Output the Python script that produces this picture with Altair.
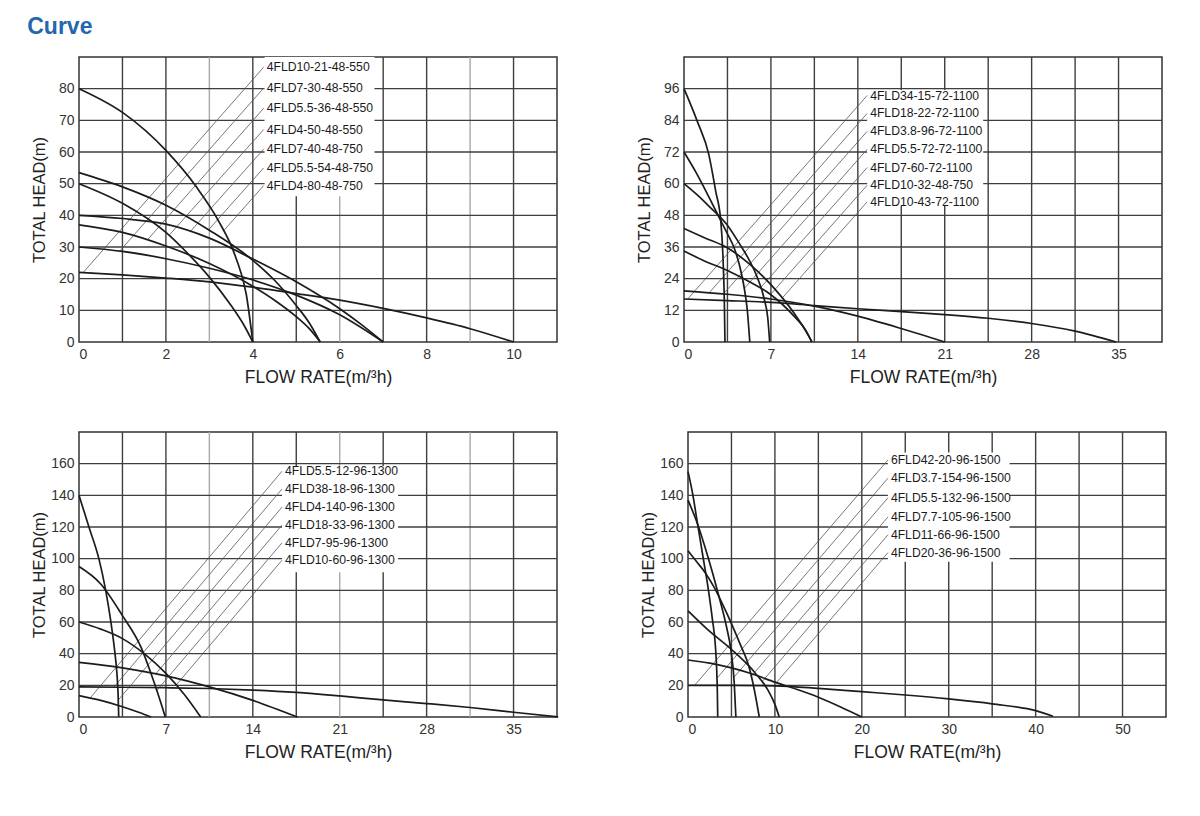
import altair as alt
import pandas as pd

FONT = "Liberation Sans"

# ---------------- Panel 1 ----------------
P1_NAMES = ["4FLD10-21-48-550", "4FLD7-30-48-550", "4FLD5.5-36-48-550", "4FLD4-50-48-550",
            "4FLD7-40-48-750", "4FLD5.5-54-48-750", "4FLD4-80-48-750"]
P1_FLOW = [
    [0, 1, 2, 3, 4, 5, 6, 7, 8, 9, 10],
    [0, 1, 2, 3, 4, 5, 6, 7],
    [0, 1, 2, 3, 4, 4.5, 5, 5.3, 5.55],
    [0, 1, 2, 2.5, 3, 3.5, 3.8, 4.0],
    [0, 1, 2, 3, 4, 5, 6, 6.5, 7],
    [0, 1, 2, 3, 4, 4.5, 5, 5.3, 5.55],
    [0, 1, 2, 2.7, 3.2, 3.6, 3.85, 4.0],
]
P1_HEAD = [
    [22, 21.2, 20.2, 19.0, 17.3, 15.3, 13.2, 10.6, 7.6, 4.2, 0],
    [30, 28.6, 26.3, 23.3, 19.6, 14.8, 8.6, 0],
    [37, 34.6, 30.3, 24.8, 17.6, 13.2, 8, 4.2, 0],
    [50, 43.8, 34.6, 28, 20.5, 11.5, 5.2, 0],
    [40, 39, 37.2, 32.8, 26.2, 19, 10.5, 5.5, 0],
    [53.5, 49, 43.2, 35.3, 25.8, 19.5, 11.5, 6, 0],
    [80, 72.5, 60.5, 49, 38.5, 27, 15, 0],
]
P1_LABEL_HEAD = [86.8, 80.2, 73.8, 67.1, 60.9, 55.0, 49.4]
P1_LEADER_FLOW = [0.1, 0.93, 1.57, 2.08, 2.55, 2.98, 3.32]
P1_LEADER_HEAD = [22, 28.6, 32.2, 33.8, 34.7, 35.4, 35.0]
P1_LABEL_FLOW = 4.25
P1_BOX_FLOW = [4.27, 6.8]
P1_BOX_HEAD = [46, 90]
P1_X_TICKS = [0, 2, 4, 6, 8, 10]
P1_Y_TICKS = [0, 10, 20, 30, 40, 50, 60, 70, 80]
P1_X_GRID = [1, 2, 3, 4, 5, 6, 7, 8, 9, 10]
P1_Y_GRID = [10, 20, 30, 40, 50, 60, 70, 80]
P1_X_LIGHT = [3, 6, 9]
P1_X_MAX, P1_Y_MAX = 11, 90

# ---------------- Panel 2 ----------------
P2_NAMES = ["4FLD34-15-72-1100", "4FLD18-22-72-1100", "4FLD3.8-96-72-1100", "4FLD5.5-72-72-1100",
            "4FLD7-60-72-1100", "4FLD10-32-48-750", "4FLD10-43-72-1100"]
P2_FLOW = [
    [0, 3.5, 7, 10.5, 14, 17.5, 21, 24.5, 28, 31.5, 34.8],
    [0, 3.5, 7, 10.5, 14, 17.5, 21],
    [0, 1.08, 2.0, 2.56, 2.96, 3.15, 3.25, 3.3],
    [0, 1, 2, 2.85, 3.5, 4.05, 4.5, 4.85, 5.1, 5.3],
    [0, 1, 2, 3.45, 4.5, 5.2, 5.9, 6.45, 6.75, 6.9],
    [0, 1.6, 3.45, 5.2, 6.92, 8.9, 9.8, 10.3],
    [0, 1.6, 3.45, 5.4, 7.27, 8.9, 9.8, 10.3],
]
P2_HEAD = [
    [16.3, 15.7, 15, 13.8, 12.6, 11.5, 10.4, 9, 7, 4.1, 0],
    [19.4, 18.1, 16.3, 13.6, 9.8, 5.1, 0],
    [96, 83.5, 71, 57, 46, 31, 15, 0],
    [72, 64, 55, 47, 41, 35.5, 28.5, 20.5, 12, 0],
    [60, 56, 51.5, 44.5, 37, 31.5, 24.5, 16.5, 9, 0],
    [34.5, 30.8, 27.2, 23, 18.2, 9.6, 4.5, 0],
    [43, 39.6, 35.8, 29, 20.3, 10.7, 4.2, 0],
]
P2_LABEL_HEAD = [93.4, 86.6, 79.8, 73.0, 66.1, 59.4, 53.1]
P2_LEADER_FLOW = [0.3, 2.0, 3.27, 4.86, 6.17, 6.97, 7.9]
P2_LEADER_HEAD = [16.3, 18.5, 18.7, 20.3, 20.6, 18.0, 16.6]
P2_LABEL_FLOW = 14.75
P2_BOX_FLOW = [14.75, 24.1]
P2_BOX_HEAD = [51.5, 95.5]
P2_X_TICKS = [0, 7, 14, 21, 28, 35]
P2_Y_TICKS = [0, 12, 24, 36, 48, 60, 72, 84, 96]
P2_X_GRID = [3.5, 7, 10.5, 14, 17.5, 21, 24.5, 28, 31.5, 35]
P2_Y_GRID = [12, 24, 36, 48, 60, 72, 84, 96]
P2_X_LIGHT = []
P2_X_MAX, P2_Y_MAX = 38.5, 108

# ---------------- Panel 3 ----------------
P3_NAMES = ["4FLD5.5-12-96-1300", "4FLD38-18-96-1300", "4FLD4-140-96-1300",
            "4FLD18-33-96-1300", "4FLD7-95-96-1300", "4FLD10-60-96-1300"]
P3_FLOW = [
    [0, 1.75, 3.5, 4.8, 5.8],
    [0, 3.5, 7, 10.5, 14, 17.5, 21, 24.5, 28, 31.5, 35, 38.6],
    [0, 0.8, 1.6, 2.15, 2.55, 2.9, 3.05, 3.15, 3.2],
    [0, 3.5, 7, 10.5, 14, 17.6],
    [0, 1.75, 3.5, 5, 5.8, 6.45, 6.95],
    [0, 1.75, 3.5, 5.25, 7, 8.5, 9.8],
]
P3_HEAD = [
    [13.5, 10.5, 6.5, 3, 0],
    [19, 18.8, 18.5, 18, 17, 15.5, 13.3, 10.8, 8.5, 6, 3, 0],
    [140, 120, 100, 80, 61, 40, 28, 14, 0],
    [34.5, 31, 26, 19, 10.5, 0],
    [95, 84, 64, 44, 27.5, 12.5, 0],
    [60, 55.5, 49.5, 40, 27.5, 14, 0],
]
P3_LABEL_HEAD = [155.2, 144, 132.5, 121.2, 110, 99]
P3_LEADER_FLOW = [0.93, 2.8, 3.16, 6.18, 6.27, 7.82]
P3_LEADER_HEAD = [12.3, 18.8, 10.7, 27.2, 16.8, 20.1]
P3_LABEL_FLOW = 16.35
P3_BOX_FLOW = [16.35, 25.7]
P3_BOX_HEAD = [91.5, 158.5]
P3_X_TICKS = [0, 7, 14, 21, 28, 35]
P3_Y_TICKS = [0, 20, 40, 60, 80, 100, 120, 140, 160]
P3_X_GRID = [3.5, 7, 10.5, 14, 17.5, 21, 24.5, 28, 31.5, 35]
P3_Y_GRID = [20, 40, 60, 80, 100, 120, 140, 160]
P3_X_LIGHT = [10.5, 21, 31.5]
P3_X_MAX, P3_Y_MAX = 38.5, 180

# ---------------- Panel 4 ----------------
P4_NAMES = ["6FLD42-20-96-1500", "4FLD3.7-154-96-1500", "4FLD5.5-132-96-1500",
            "4FLD7.7-105-96-1500", "4FLD11-66-96-1500", "4FLD20-36-96-1500"]
P4_FLOW = [
    [0, 5, 10, 15, 20, 25, 30, 35, 40, 42],
    [0, 0.5, 1.1, 1.7, 2.3, 2.8, 3.15, 3.3, 3.38, 3.42],
    [0, 1.16, 2.3, 3.47, 4.43, 4.93, 5.32, 5.51],
    [0, 1, 2, 3, 4, 5, 6, 7, 7.6, 8.2],
    [0, 2.3, 4.93, 7.7, 9.2, 10.0, 10.5],
    [0, 2.5, 5, 7.5, 10, 12.5, 15, 17.5, 20],
]
P4_HEAD = [
    [20, 20, 19.7, 18.1, 16, 13.9, 11.4, 8.3, 4, 0.5],
    [155, 142, 122, 102, 82, 62, 45, 30, 15, 0],
    [137, 121, 101, 78, 57, 42.6, 21.6, 0],
    [105, 98, 91, 82, 71, 59, 46, 32, 18, 0],
    [67, 55, 43, 28, 17, 8, 0],
    [36, 34, 31, 27, 22, 17.5, 12.5, 6.5, 0],
]
P4_LABEL_HEAD = [162.3, 150.8, 138.4, 126.3, 115, 103.8]
P4_LEADER_FLOW = [0.76, 3.33, 5.26, 7.28, 8.5, 10.17]
P4_LEADER_HEAD = [20, 24.5, 24.9, 25.7, 22.2, 21.7]
P4_LABEL_FLOW = 23.0
P4_BOX_FLOW = [23.0, 37]
P4_BOX_HEAD = [98, 167]
P4_X_TICKS = [0, 10, 20, 30, 40, 50]
P4_Y_TICKS = [0, 20, 40, 60, 80, 100, 120, 140, 160]
P4_X_GRID = [5, 10, 15, 20, 25, 30, 35, 40, 45, 50]
P4_Y_GRID = [20, 40, 60, 80, 100, 120, 140, 160]
P4_X_LIGHT = []
P4_X_MAX, P4_Y_MAX = 55, 180

W, H = 478, 285
INK = "#1c1c1c"
GRID_DARK = "#3e3e3e"
GRID_LIGHT = "#a8a8a8"


def panel(names, flows, heads, label_head, leader_flow, leader_head, label_flow,
          box_flow, box_head, x_ticks, y_ticks, x_grid, y_grid, x_light, x_max, y_max):
    xs = alt.Scale(domain=[0, x_max], nice=False, zero=False)
    ys = alt.Scale(domain=[0, y_max], nice=False, zero=False)
    ax_x = alt.Axis(values=x_ticks, grid=False, ticks=False, domain=False,
                    labelPadding=5, labelFontSize=14, labelFont=FONT, labelColor="#333",
                    title="FLOW RATE(m/³h)", titleFont=FONT, titleFontSize=17.5,
                    titleFontWeight="normal", titleColor="#222",
                    titleBaseline="top", titleY=26)
    ax_y = alt.Axis(values=y_ticks, grid=False, ticks=False, domain=False,
                    labelPadding=5, labelFontSize=14, labelFont=FONT, labelColor="#333",
                    title="TOTAL HEAD(m)", titleFont=FONT, titleFontSize=16.5,
                    titleFontWeight="normal", titleColor="#222",
                    titleAngle=270, titleBaseline="bottom", titleAlign="center",
                    titleX=-32, titleY=H / 2)
    X = lambda f="q": alt.X(f"{f}:Q", scale=xs, axis=ax_x)
    Y = lambda f="h": alt.Y(f"{f}:Q", scale=ys, axis=ax_y)

    gx = pd.DataFrame({"q": x_grid, "light": [v in x_light for v in x_grid]})
    gy = pd.DataFrame({"h": y_grid})
    vgrid = alt.Chart(gx).mark_rule(strokeWidth=1.4).encode(
        x=X(),
        color=alt.condition("datum.light", alt.value(GRID_LIGHT), alt.value(GRID_DARK)),
    )
    hgrid = alt.Chart(gy).mark_rule(strokeWidth=1.4, color=GRID_DARK).encode(y=Y())

    box = alt.Chart(pd.DataFrame({"q": [box_flow[0]], "q2": [box_flow[1]],
                                  "h": [box_head[0]], "h2": [box_head[1]]})).mark_rect(
        color="white").encode(x=X(), x2="q2:Q", y=Y(), y2="h2:Q")

    lead = pd.DataFrame({"q": leader_flow, "h": leader_head,
                         "q2": [label_flow] * len(names), "h2": label_head})
    leaders = alt.Chart(lead).mark_rule(strokeWidth=0.8, color="#555").encode(
        x=X(), y=Y(), x2="q2:Q", y2="h2:Q")

    rows = []
    for n, fl, hd in zip(names, flows, heads):
        for q, h in zip(fl, hd):
            rows.append({"s": n, "q": q, "h": h})
    curves = alt.Chart(pd.DataFrame(rows)).mark_line(
        color=INK, strokeWidth=1.7, interpolate="monotone").encode(
        x=X(), y=Y(), detail="s:N")

    labs = pd.DataFrame({"q": [label_flow] * len(names), "h": label_head, "t": names})
    labels = alt.Chart(labs).mark_text(align="left", baseline="middle", dx=3,
                                       fontSize=12.2, font=FONT, color="#1a1a1a").encode(
        x=X(), y=Y(), text="t:N")

    return alt.layer(vgrid, hgrid, box, leaders, curves, labels).properties(width=W, height=H)


p1 = panel(P1_NAMES, P1_FLOW, P1_HEAD, P1_LABEL_HEAD, P1_LEADER_FLOW, P1_LEADER_HEAD,
           P1_LABEL_FLOW, P1_BOX_FLOW, P1_BOX_HEAD, P1_X_TICKS, P1_Y_TICKS, P1_X_GRID,
           P1_Y_GRID, P1_X_LIGHT, P1_X_MAX, P1_Y_MAX)
p2 = panel(P2_NAMES, P2_FLOW, P2_HEAD, P2_LABEL_HEAD, P2_LEADER_FLOW, P2_LEADER_HEAD,
           P2_LABEL_FLOW, P2_BOX_FLOW, P2_BOX_HEAD, P2_X_TICKS, P2_Y_TICKS, P2_X_GRID,
           P2_Y_GRID, P2_X_LIGHT, P2_X_MAX, P2_Y_MAX)
p3 = panel(P3_NAMES, P3_FLOW, P3_HEAD, P3_LABEL_HEAD, P3_LEADER_FLOW, P3_LEADER_HEAD,
           P3_LABEL_FLOW, P3_BOX_FLOW, P3_BOX_HEAD, P3_X_TICKS, P3_Y_TICKS, P3_X_GRID,
           P3_Y_GRID, P3_X_LIGHT, P3_X_MAX, P3_Y_MAX)
p4 = panel(P4_NAMES, P4_FLOW, P4_HEAD, P4_LABEL_HEAD, P4_LEADER_FLOW, P4_LEADER_HEAD,
           P4_LABEL_FLOW, P4_BOX_FLOW, P4_BOX_HEAD, P4_X_TICKS, P4_Y_TICKS, P4_X_GRID,
           P4_Y_GRID, P4_X_LIGHT, P4_X_MAX, P4_Y_MAX)

top = alt.hconcat(p1, p2, spacing=76)
bottom = alt.hconcat(p3, p4, spacing=76)

chart = alt.vconcat(top, bottom, spacing=43).properties(
    title=alt.TitleParams(text="Curve", anchor="start", fontSize=23, fontWeight="bold",
                          color="#2467ad", font=FONT, baseline="top", offset=17, dx=-3),
    padding={"left": 27, "top": 15, "right": 0, "bottom": 0},
    background="white",
).configure_view(stroke="#333", strokeWidth=1.5)

chart.save("out.html", embed_options={"renderer": "svg", "actions": False})
